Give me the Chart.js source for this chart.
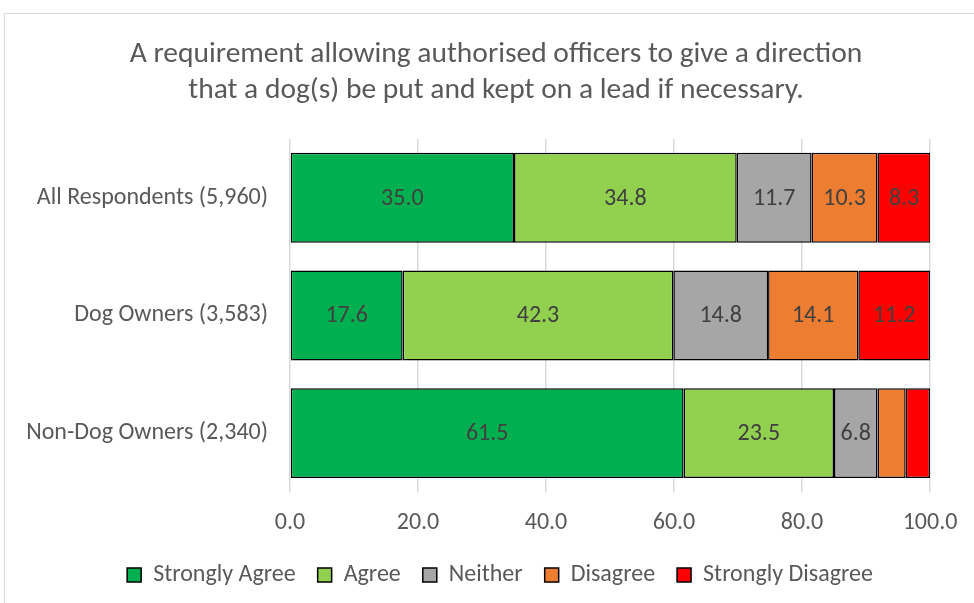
<!DOCTYPE html>
<html>
<head>
<meta charset="utf-8">
<script src="https://cdn.jsdelivr.net/npm/chart.js@4/dist/chart.umd.min.js"></script>
<style>
	body { margin: 0; background: #fff; }
	#frame { position: absolute; left: 4px; top: 13px; width: 990px; height: 620px; border: 1px solid #d9d9d9; }
	#wrap { position: absolute; left: 0; top: 0; width: 974px; height: 603px; }
</style>
</head>
<body>
<div id="frame"></div>
<div id="wrap"><canvas id="MyChart1" width="974" height="603"></canvas></div>
<script>
var groups = [ "All Respondents (5,960)", "Dog Owners (3,583)", "Non-Dog Owners (2,340)" ];
var stronglyAgree = [ 35.0, 17.6, 61.5 ];
var agree = [ 34.8, 42.3, 23.5 ];
var neither = [ 11.7, 14.8, 6.8 ];
var disagree = [ 10.3, 14.1, 4.4 ];
var stronglyDisagree = [ 8.3, 11.2, 3.8 ];
var xTicks = [ 0, 20, 40, 60, 80, 100 ];

var FONT = "Carlito, Lato, sans-serif";

// numbers inside the bars
var barLabels = {
	id : 'barLabels',
	afterDatasetsDraw : function(chart) {
		var ctx = chart.ctx;
		ctx.save();
		ctx.font = "24px " + FONT;
		ctx.fillStyle = "#404040";
		ctx.textAlign = "center";
		ctx.textBaseline = "middle";
		chart.data.datasets.forEach(function(ds, i) {
			chart.getDatasetMeta(i).data.forEach(function(bar, j) {
				var v = ds.data[j];
				if (v < 5) return;
				ctx.fillText(v.toFixed(1), (bar.x + bar.base) / 2, bar.y + 1);
			});
		});
		ctx.restore();
	}
};

// title and legend sit a bit right of the plot centre in the original
var nudge = {
	id : 'nudge',
	afterLayout : function(chart) {
		var t = chart.titleBlock, l = chart.legend;
		t.left += 31; t.right += 31;
		l.left += 35; l.right += 35;
		l.top += 2; l.bottom += 2;
	}
};

function ds(label, data, color) {
	return {
		label : label,
		data : data,
		backgroundColor : color,
		borderColor : "#000",
		borderWidth : 1.5,
		borderSkipped : false,
		barPercentage : 0.764,
		categoryPercentage : 1
	};
}

var ctx = document.getElementById('MyChart1').getContext('2d');
var chart = new Chart(ctx, {
	type : 'bar',
	data : {
		labels : groups,
		datasets : [
			ds("Strongly Agree", stronglyAgree, "#00b050"),
			ds("Agree", agree, "#92d050"),
			ds("Neither", neither, "#a6a6a6"),
			ds("Disagree", disagree, "#ed7d31"),
			ds("Strongly Disagree", stronglyDisagree, "#ff0000")
		]
	},
	options : {
		indexAxis : 'y',
		responsive : false,
		animation : false,
		layout : { padding : { left : 0, right : 44, top : 37, bottom : 8 } },
		scales : {
			x : {
				stacked : true,
				min : 0,
				max : 100,
				afterBuildTicks : function(scale) {
					scale.ticks = xTicks.map(function(v) { return { value : v }; });
				},
				afterFit : function(scale) {
					scale.height = 47;
					scale.paddingLeft = 0;
					scale.paddingRight = 0;
				},
				ticks : {
					callback : function(v) { return v.toFixed(1); },
					color : "#595959",
					font : { family : FONT, size : 24 },
					padding : 17
				},
				grid : { color : "#d9d9d9", lineWidth : 1.5, drawTicks : false },
				border : { display : false }
			},
			y : {
				stacked : true,
				afterFit : function(scale) { scale.width = 290; },
				ticks : {
					color : "#595959",
					font : { family : FONT, size : 24 },
					padding : 14
				},
				grid : { display : false },
				border : { display : false }
			}
		},
		plugins : {
			title : {
				display : true,
				text : [ "A requirement allowing authorised officers to give a direction",
						"that a dog(s) be put and kept on a lead if necessary." ],
				color : "#595959",
				font : { family : FONT, size : 29.5, weight : 'normal', lineHeight : 1.22 },
				padding : { top : 0, bottom : 30 }
			},
			legend : {
				position : 'bottom',
				labels : {
					color : "#595959",
					font : { family : FONT, size : 24 },
					boxWidth : 14,
					boxHeight : 14,
					padding : 22
				}
			},
			tooltip : { enabled : false }
		}
	},
	plugins : [ barLabels, nudge ]
});
</script>
</body>
</html>
